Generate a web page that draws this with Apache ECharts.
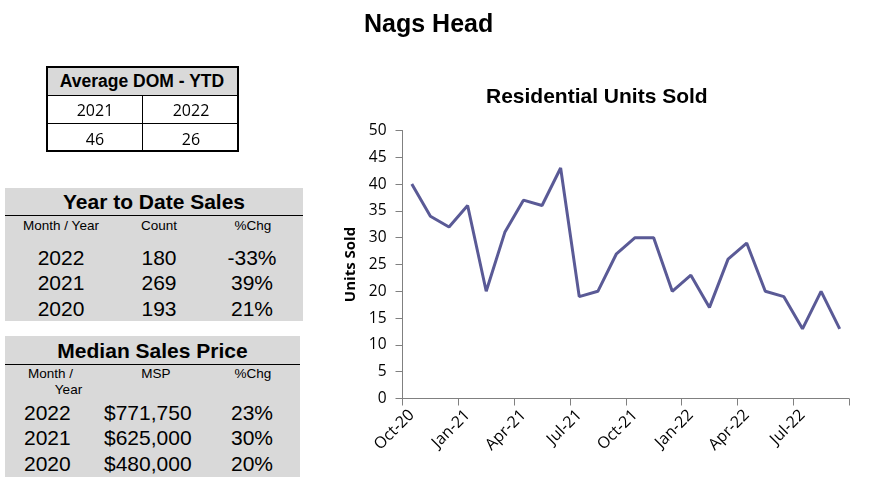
<!DOCTYPE html>
<html>
<head>
<meta charset="utf-8">
<script src="https://cdn.jsdelivr.net/npm/echarts@6/dist/echarts.min.js"></script>
<style>
	body {margin: 0; background: #fff;}
	#chart {position: absolute; left: 0; top: 0; width: 873px; height: 482px;}
	.box {position: absolute; box-sizing: border-box; font-family: Arial, "Liberation Sans", sans-serif; color: #000;}
	.gray {background: #d9d9d9;}
	.t {position: absolute; white-space: nowrap; line-height: 1;}
	.hline {position: absolute; left: 0; right: 0; height: 1px; background: #000;}
</style>
</head>
<body>
<div id="chart"></div>
<div id="dom" class="box"></div>
<div id="ytd" class="box gray"></div>
<div id="msp" class="box gray"></div>
<script>
var months = ['Oct-20', 'Nov-20', 'Dec-20', 'Jan-21', 'Feb-21', 'Mar-21', 'Apr-21', 'May-21',
	'Jun-21', 'Jul-21', 'Aug-21', 'Sep-21', 'Oct-21', 'Nov-21', 'Dec-21', 'Jan-22',
	'Feb-22', 'Mar-22', 'Apr-22', 'May-22', 'Jun-22', 'Jul-22', 'Aug-22', 'Sep-22']
var unitsSold = [40, 34, 32, 36, 20, 31, 37, 36, 43, 19, 20, 27, 30, 30, 20, 23, 17, 26, 29, 20, 19, 13, 20, 13]

var domYears = ['2021', '2022']
var domValues = ['46', '26']

var ytdYears = ['2022', '2021', '2020']
var ytdCounts = ['180', '269', '193']
var ytdChg = ['-33%', '39%', '21%']

var mspYears = ['2022', '2021', '2020']
var mspPrices = ['$771,750', '$625,000', '$480,000']
var mspChg = ['23%', '30%', '20%']

// put one piece of text into a panel; align 'c' centres on x, 'l' starts at x
function put (el, text, x, y, size, bold, align, family) {
	var s = document.createElement('span')
	s.className = 't'
	s.textContent = text
	s.style.fontSize = size + 'px'
	if (bold) s.style.fontWeight = 'bold'
	if (family) s.style.fontFamily = family
	s.style.left = x + 'px'
	s.style.top = y + 'px'
	s.style.transform = align === 'l' ? 'translate(0,-50%)' : 'translate(-50%,-50%)'
	el.appendChild(s)
}

function hline (el, top) {
	var d = document.createElement('div')
	d.className = 'hline'
	d.style.top = top + 'px'
	el.appendChild(d)
}

// Average DOM table
var dom = document.getElementById('dom')
dom.style.cssText = 'left:46px;top:66px;width:193px;height:86px;border:2px solid #000;'
var head = document.createElement('div')
head.className = 'gray'
head.style.cssText = 'position:absolute;left:0;top:0;right:0;height:27px;'
dom.appendChild(head)
put(dom, 'Average DOM - YTD', 94, 14, 17.5, true)
hline(dom, 27)
hline(dom, 55)
var vl = document.createElement('div')
vl.style.cssText = 'position:absolute;left:94px;top:27px;bottom:0;width:1px;background:#000;'
dom.appendChild(vl)
for (var i = 0; i < 2; i++) {
	put(dom, domYears[i], 47 + i * 96, 42, 16, false, 'c', '"Open Sans", sans-serif')
	put(dom, domValues[i], 47 + i * 96, 71, 16, false, 'c', '"Open Sans", sans-serif')
}

// Year to date sales
var ytd = document.getElementById('ytd')
ytd.style.cssText = 'left:5px;top:188px;width:298px;height:133px;'
put(ytd, 'Year to Date Sales', 149, 13, 21, true)
hline(ytd, 27)
put(ytd, 'Month / Year', 56, 38, 13.5)
put(ytd, 'Count', 154, 38, 13.5)
put(ytd, '%Chg', 248, 38, 13.5)
for (i = 0; i < ytdYears.length; i++) {
	put(ytd, ytdYears[i], 56, 69 + i * 25.3, 21)
	put(ytd, ytdCounts[i], 154, 69 + i * 25.3, 21)
	put(ytd, ytdChg[i], 247, 69 + i * 25.3, 21)
}

// Median sales price
var msp = document.getElementById('msp')
msp.style.cssText = 'left:5px;top:336px;width:295px;height:141px;'
put(msp, 'Median Sales Price', 147.5, 13.5, 21, true)
hline(msp, 28)
put(msp, 'Month /', 45.5, 37.5, 13.5)
put(msp, 'Year', 63.5, 54, 13.5)
put(msp, 'MSP', 151, 37.5, 13.5)
put(msp, '%Chg', 248, 37.5, 13.5)
for (i = 0; i < mspYears.length; i++) {
	put(msp, mspYears[i], 19, 75.5 + i * 25.8, 21, false, 'l')
	put(msp, mspPrices[i], 99, 75.5 + i * 25.8, 21, false, 'l')
	put(msp, mspChg[i], 247, 75.5 + i * 25.8, 21)
}

var chart = echarts.init(document.getElementById('chart'))
var axisGray = '#808080'
chart.setOption({
	animation: false,
	title: [{
		text: 'Nags Head',
		left: 364,
		top: 13,
		padding: 0,
		textStyle: {fontFamily: 'Arial', fontSize: 25, fontWeight: 'bold', color: '#000'}
	}, {
		text: 'Residential Units Sold',
		left: 486,
		top: 87,
		padding: 0,
		textStyle: {fontFamily: 'Arial', fontSize: 21, fontWeight: 'bold', color: '#000'}
	}],
	grid: {left: 402.5, right: 24, top: 130.5, bottom: 83.5},
	xAxis: {
		type: 'category',
		data: months,
		boundaryGap: true,
		axisLine: {lineStyle: {color: axisGray, width: 1}},
		axisTick: {show: true, interval: 2, length: 7, lineStyle: {color: axisGray, width: 1}},
		axisLabel: {
			interval: 2,
			rotate: 45,
			margin: 14,
			fontFamily: 'Open Sans',
			fontSize: 16,
			color: '#000'
		}
	},
	yAxis: {
		type: 'value',
		min: 0,
		max: 50,
		interval: 5,
		name: 'Units Sold',
		nameLocation: 'middle',
		nameGap: 44,
		nameTextStyle: {fontFamily: 'Open Sans', fontSize: 15, fontWeight: 'bold', color: '#000'},
		splitLine: {show: false},
		axisLine: {show: true, lineStyle: {color: axisGray, width: 1}},
		axisTick: {show: true, length: 7, lineStyle: {color: axisGray, width: 1}},
		axisLabel: {margin: 16, fontFamily: 'Open Sans', fontSize: 15.5, color: '#000'}
	},
	series: [{
		type: 'line',
		data: unitsSold,
		symbol: 'none',
		lineStyle: {color: '#5a5a96', width: 3}
	}]
})
</script>
</body>
</html>
